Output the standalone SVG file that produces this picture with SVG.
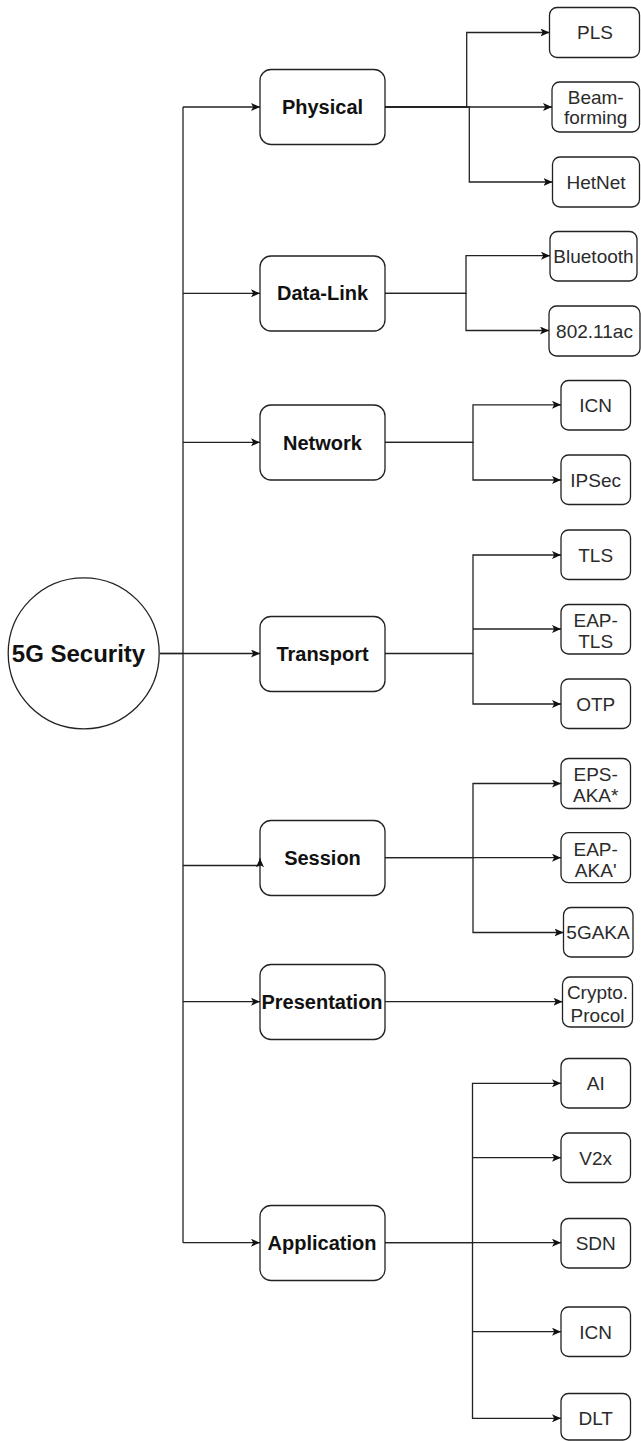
<svg xmlns="http://www.w3.org/2000/svg" width="641" height="1441" viewBox="0 0 641 1441">
<style>
  .l2 { fill: #ffffff; stroke: #222222; stroke-width: 1.3; }
  .leaf { fill: #ffffff; stroke: #222222; stroke-width: 1.3; }
  .t2 { font-family: "Liberation Sans", Arial, sans-serif; font-size: 20px; font-weight: bold; fill: #111111; text-anchor: middle; }
  .tl { font-family: "Liberation Sans", Arial, sans-serif; font-size: 19px; fill: #2b2b2b; text-anchor: middle; }
  .root { font-family: "Liberation Sans", Arial, sans-serif; font-size: 24px; font-weight: bold; fill: #111111; text-anchor: middle; }
  .edge { fill: none; stroke: #222222; stroke-width: 1.3; }
  .arr { marker-end: url(#ah); }
</style>
<defs>
  <marker id="ah" viewBox="0 0 9 8" refX="9" refY="4" markerWidth="9" markerHeight="8" markerUnits="userSpaceOnUse" orient="auto">
    <path d="M0,0 L9,4 L0,8 L2.2,4 Z" fill="#111111"/>
  </marker>
</defs>
<rect width="641" height="1441" fill="#ffffff"/>

<g id="root">
  <circle cx="83.7" cy="653.3" r="75.5" fill="#ffffff" stroke="#222222" stroke-width="1.3"/>
  <text class="root" x="78.5" y="661.8">5G Security</text>
</g>

<g id="physical">
  <rect class="l2" x="260" y="69.5" width="125" height="75" rx="11" ry="11"/>
  <text class="t2" x="322.5" y="114">Physical</text>
</g>
<g id="data-link">
  <rect class="l2" x="260" y="256" width="125" height="75" rx="11" ry="11"/>
  <text class="t2" x="322.5" y="300.3">Data-Link</text>
</g>
<g id="network">
  <rect class="l2" x="260" y="405" width="125" height="75" rx="11" ry="11"/>
  <text class="t2" x="322.5" y="449.5">Network</text>
</g>
<g id="transport">
  <rect class="l2" x="260" y="616.5" width="125" height="75" rx="11" ry="11"/>
  <text class="t2" x="322.5" y="661">Transport</text>
</g>
<g id="session">
  <rect class="l2" x="260" y="820.5" width="125" height="75" rx="11" ry="11"/>
  <text class="t2" x="322.5" y="865">Session</text>
</g>
<g id="presentation">
  <rect class="l2" x="260" y="964.5" width="125" height="75" rx="11" ry="11"/>
  <text class="t2" x="322" y="1009">Presentation</text>
</g>
<g id="application">
  <rect class="l2" x="260" y="1205.5" width="125" height="75" rx="11" ry="11"/>
  <text class="t2" x="322" y="1250">Application</text>
</g>

<g id="pls">
  <rect class="leaf" x="549.5" y="7.5" width="90" height="50" rx="7.5" ry="7.5"/>
  <text class="tl" x="595" y="39.3">PLS</text>
</g>
<g id="beamforming">
  <rect class="leaf" x="552" y="82" width="87.5" height="50" rx="7.5" ry="7.5"/>
  <text class="tl" x="595.7" y="103.5">Beam-</text>
  <text class="tl" x="595.7" y="124.3">forming</text>
</g>
<g id="hetnet">
  <rect class="leaf" x="552.5" y="157" width="87" height="50" rx="7.5" ry="7.5"/>
  <text class="tl" x="596" y="188.8">HetNet</text>
</g>
<g id="bluetooth">
  <rect class="leaf" x="550" y="231.5" width="87" height="49.5" rx="7.5" ry="7.5"/>
  <text class="tl" x="593.5" y="262.8">Bluetooth</text>
</g>
<g id="ieee80211ac">
  <rect class="leaf" x="549" y="306" width="91" height="50" rx="7.5" ry="7.5"/>
  <text class="tl" x="594.5" y="337.6">802.11ac</text>
</g>
<g id="icn-network">
  <rect class="leaf" x="561" y="380.5" width="69.5" height="49.5" rx="7.5" ry="7.5"/>
  <text class="tl" x="595.7" y="411.8">ICN</text>
</g>
<g id="ipsec">
  <rect class="leaf" x="561" y="455" width="69.5" height="49.5" rx="7.5" ry="7.5"/>
  <text class="tl" x="595.7" y="486.5">IPSec</text>
</g>
<g id="tls">
  <rect class="leaf" x="561" y="530" width="69.5" height="49.5" rx="7.5" ry="7.5"/>
  <text class="tl" x="595.7" y="561.5">TLS</text>
</g>
<g id="eap-tls">
  <rect class="leaf" x="561" y="604.5" width="69.5" height="49.5" rx="7.5" ry="7.5"/>
  <text class="tl" x="595.7" y="627.3">EAP-</text>
  <text class="tl" x="595.7" y="648.3">TLS</text>
</g>
<g id="otp">
  <rect class="leaf" x="561" y="679" width="69.5" height="49.5" rx="7.5" ry="7.5"/>
  <text class="tl" x="595.7" y="710.5">OTP</text>
</g>
<g id="eps-aka">
  <rect class="leaf" x="561" y="758.5" width="69.5" height="50" rx="7.5" ry="7.5"/>
  <text class="tl" x="595.7" y="780.7">EPS-</text>
  <text class="tl" x="595.7" y="801.7">AKA*</text>
</g>
<g id="eap-aka">
  <rect class="leaf" x="561" y="832.7" width="69.5" height="50" rx="7.5" ry="7.5"/>
  <text class="tl" x="595.7" y="855.5">EAP-</text>
  <text class="tl" x="595.7" y="876.5">AKA'</text>
</g>
<g id="fivegaka">
  <rect class="leaf" x="563.5" y="907.5" width="69.5" height="49.5" rx="7.5" ry="7.5"/>
  <text class="tl" x="598" y="939">5GAKA</text>
</g>
<g id="crypto">
  <rect class="leaf" x="562.5" y="977" width="70" height="50" rx="7.5" ry="7.5"/>
  <text class="tl" x="597.5" y="998.5">Crypto.</text>
  <text class="tl" x="597.5" y="1022">Procol</text>
</g>
<g id="ai">
  <rect class="leaf" x="561" y="1058.5" width="69.5" height="49.5" rx="7.5" ry="7.5"/>
  <text class="tl" x="595.7" y="1090">AI</text>
</g>
<g id="v2x">
  <rect class="leaf" x="561" y="1133" width="69.5" height="49.5" rx="7.5" ry="7.5"/>
  <text class="tl" x="595.7" y="1164.5">V2x</text>
</g>
<g id="sdn">
  <rect class="leaf" x="561" y="1218.5" width="69.5" height="49.5" rx="7.5" ry="7.5"/>
  <text class="tl" x="595.7" y="1250">SDN</text>
</g>
<g id="icn-application">
  <rect class="leaf" x="561" y="1307" width="69.5" height="49.5" rx="7.5" ry="7.5"/>
  <text class="tl" x="595.7" y="1338.5">ICN</text>
</g>
<g id="dlt">
  <rect class="leaf" x="561" y="1393.5" width="69.5" height="46.5" rx="7.5" ry="7.5"/>
  <text class="tl" x="595.7" y="1425">DLT</text>
</g>

<g id="connectors">
  <!-- root trunk -->
  <path class="edge" d="M160,653.5 L183,653.5"/>
  <path class="edge" d="M183,107 L183,1242.7"/>
  <path class="edge arr" d="M183,107 L260,107"/>
  <path class="edge arr" d="M183,293.3 L260,293.3"/>
  <path class="edge arr" d="M183,442.3 L260,442.3"/>
  <path class="edge arr" d="M160,653.5 L260,653.5"/>
  <path class="edge arr" d="M183,865.5 L260,865.5 L260,858.3"/>
  <path class="edge arr" d="M183,1001.7 L260,1001.7"/>
  <path class="edge arr" d="M183,1242.7 L260,1242.7"/>

  <!-- Physical -->
  <path class="edge arr" d="M385,107 L466.7,107 L466.7,32.5 L549.5,32.5"/>
  <path class="edge arr" d="M385,107 L552,107"/>
  <path class="edge arr" d="M385,107 L469.3,107 L469.3,182 L552.5,182"/>
  <!-- Data-Link -->
  <path class="edge arr" d="M385,293.3 L466,293.3 L466,255.7 L550,255.7"/>
  <path class="edge arr" d="M385,293.3 L466,293.3 L466,330.5 L549,330.5"/>
  <!-- Network -->
  <path class="edge arr" d="M385,442.3 L473,442.3 L473,404.8 L561,404.8"/>
  <path class="edge arr" d="M385,442.3 L473,442.3 L473,480 L561,480"/>
  <!-- Transport -->
  <path class="edge arr" d="M385,653.5 L473,653.5 L473,555 L561,555"/>
  <path class="edge arr" d="M473,629 L561,629"/>
  <path class="edge arr" d="M473,653.5 L473,704 L561,704"/>
  <!-- Session -->
  <path class="edge arr" d="M385,857.7 L473,857.7 L473,783.5 L561,783.5"/>
  <path class="edge arr" d="M385,857.7 L561,857.7"/>
  <path class="edge arr" d="M473,857.7 L473,932.5 L563.5,932.5"/>
  <!-- Presentation -->
  <path class="edge arr" d="M385,1001.7 L562.5,1001.7"/>
  <!-- Application -->
  <path class="edge arr" d="M385,1242.7 L472.5,1242.7 L472.5,1083.3 L561,1083.3"/>
  <path class="edge arr" d="M472.5,1157.7 L561,1157.7"/>
  <path class="edge arr" d="M385,1242.7 L561,1242.7"/>
  <path class="edge arr" d="M472.5,1242.7 L472.5,1331.7 L561,1331.7"/>
  <path class="edge arr" d="M472.5,1331.7 L472.5,1418.3 L561,1418.3"/>
</g>
</svg>
